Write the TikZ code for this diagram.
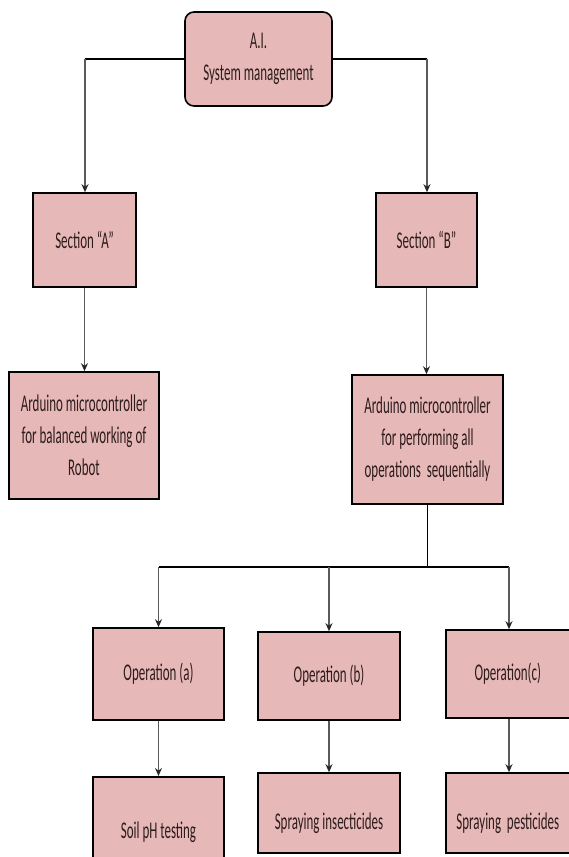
\documentclass[tikz,border=0pt]{standalone}
\usepackage{fontspec}
\setmainfont{Carlito}[FakeStretch=0.54]
\usetikzlibrary{arrows.meta}
\definecolor{boxfill}{HTML}{E6B9B8}
\definecolor{txt}{HTML}{2E1C1C}
\definecolor{arrgray}{HTML}{5A5A5A}
\tikzset{
  box/.style={draw=black, line width=1.6pt, fill=boxfill, rectangle, inner sep=0pt,
    align=center, text=txt, font=\fontsize{24}{32}\selectfont},
  hline/.style={draw=black, line width=1.8pt},
  vline/.style={draw=arrgray, line width=1.6pt},
  arr/.style={draw=arrgray, line width=1.6pt, -{Stealth[length=8pt,width=7pt,fill=black!85,color=black!85]}},
}
\begin{document}
\begin{tikzpicture}[x=1pt,y=-1pt]
\path[use as bounding box, clip] (0,0) rectangle (569,857);
\fill[white] (0,0) rectangle (569,857);
% nodes
\node[box, rounded corners=9pt, minimum width=147pt, minimum height=94pt] (top) at (258.5,59) {A.I.\\System management};
\node[box, minimum width=103pt, minimum height=94pt] (secA) at (84.5,240) {Section ``A''};
\node[box, minimum width=101pt, minimum height=94pt] (secB) at (426.5,240) {Section ``B''};
\node[box, minimum width=150pt, minimum height=127pt] (ardA) at (84,435.5) {Arduino microcontroller\\for balanced working of\\Robot};
\node[box, minimum width=151pt, minimum height=129pt] (ardB) at (427.5,439.5) {Arduino microcontroller\\for performing all\\operations\ \ sequentially};
\node[box, minimum width=131pt, minimum height=92pt] (opA) at (158.5,674) {Operation (a)};
\node[box, minimum width=142pt, minimum height=88pt] (opB) at (329,676) {Operation (b)};
\node[box, minimum width=128pt, minimum height=88pt, anchor=west] (opC) at (445,674) {\hspace*{-4pt}Operation(c)};
\node[box, minimum width=131pt, minimum height=86pt, anchor=north] (soil) at (158.5,776) {\raisebox{-19pt}[0pt][0pt]{Soil pH testing}};
\node[box, minimum width=142pt, minimum height=80pt] (ins) at (329,813) {\raisebox{-16pt}[0pt][0pt]{Spraying insecticides}};
\node[box, minimum width=128pt, minimum height=80pt, anchor=west] (pest) at (445,813) {\hspace*{-4pt}\raisebox{-16pt}[0pt][0pt]{Spraying\ \ pesticides}};
% coordinates
\coordinate (lc) at (85,59);
\coordinate (rc) at (427,59);
\coordinate (bus) at (427.5,567);
\coordinate (busA) at (158.5,567);
\coordinate (busC) at (509,567);
% connectors
\draw[hline] (top.west) -- (lc);
\draw[hline] (top.east) -- (rc);
\draw[arr] (lc) -- (lc |- secA.north);
\draw[arr] (rc) -- (rc |- secB.north);
\draw[arr] (secA.south) -- (ardA.north -| secA.south);
\draw[arr] (secB.south) -- (ardB.north -| secB.south);
\draw[vline, draw=black] (ardB.south) -- (bus);
\draw[hline] (busA) -- (busC);
\draw[arr] (busA) -- (opA.north);
\draw[arr] (bus -| opB.north) -- (opB.north);
\draw[arr] (busC) -- (busC |- opC.north);
\draw[arr] (opA.south) -- (soil.north);
\draw[arr] (opB.south) -- (ins.north);
\draw[arr] (busC |- opC.south) -- (busC |- pest.north);
\end{tikzpicture}
\end{document}
